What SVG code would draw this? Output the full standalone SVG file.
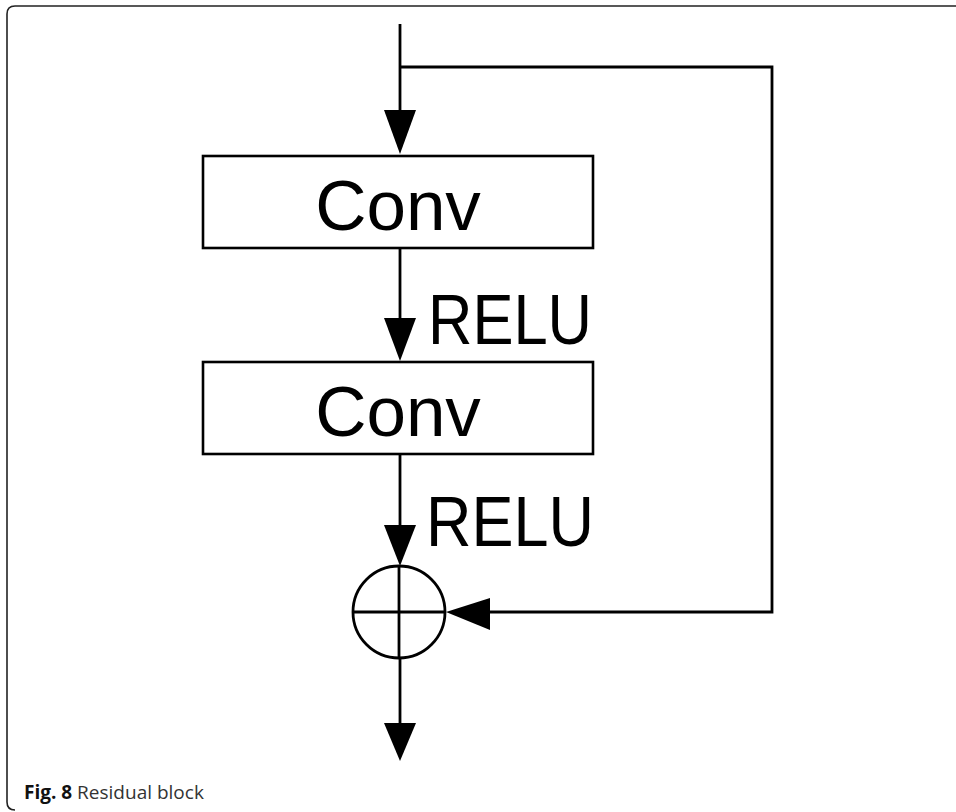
<svg xmlns="http://www.w3.org/2000/svg" width="956" height="812" viewBox="0 0 956 812">
<style>
.frame{fill:none;stroke:#222;stroke-width:1.6}
.box{fill:#fff;stroke:#000;stroke-width:2.6}
.line{fill:none;stroke:#000;stroke-width:2.8}
.head{fill:#000}
.lbl{font-family:"Liberation Sans",Arial,Helvetica,sans-serif;font-size:71px;fill:#000}
.cap{font-family:"Open Sans","Noto Sans",sans-serif;font-size:19px;fill:#333}
</style>
<rect width="956" height="812" fill="#fff"/>
<path class="frame" d="M956,6 H15 Q7,6 7,14 V802 Q7,810 15,810"/>
<g id="connectors">
<line class="line" x1="400" y1="24" x2="400" y2="115"/>
<polyline class="line" points="400,67 772,67 772,612 485,612"/>
<polygon class="head" points="384,110 416,110 400,154"/>
<line class="line" x1="400" y1="248" x2="400" y2="322"/>
<polygon class="head" points="384,318 416,318 400,361"/>
<line class="line" x1="400" y1="455" x2="400" y2="530"/>
<polygon class="head" points="384,525 416,525 400,566"/>
<polygon class="head" points="490,598 490,630 446,612"/>
<line class="line" x1="400" y1="658" x2="400" y2="727"/>
<polygon class="head" points="384,723 416,723 400,761"/>
</g>
<g id="conv1">
<rect class="box" x="203" y="156" width="390" height="92"/>
<text class="lbl" x="398" y="230" text-anchor="middle">Conv</text>
</g>
<g id="relu1">
<text class="lbl" x="428" y="344" textLength="164" lengthAdjust="spacingAndGlyphs">RELU</text>
</g>
<g id="conv2">
<rect class="box" x="203" y="362" width="390" height="92"/>
<text class="lbl" x="398" y="436" text-anchor="middle">Conv</text>
</g>
<g id="relu2">
<text class="lbl" x="426" y="546" textLength="168" lengthAdjust="spacingAndGlyphs">RELU</text>
</g>
<g id="sum">
<circle class="line" cx="399" cy="612" r="46"/>
<line class="line" x1="353" y1="612" x2="445" y2="612"/>
<line class="line" x1="399" y1="566" x2="399" y2="658"/>
</g>
<g id="caption">
<text class="cap" x="24" y="799"><tspan font-weight="bold" fill="#111">Fig. 8</tspan> Residual block</text>
</g>
</svg>
